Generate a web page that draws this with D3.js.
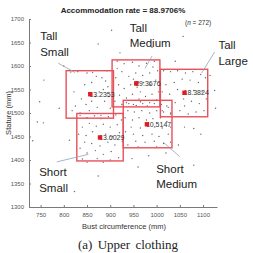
<!DOCTYPE html>
<html>
<head>
<meta charset="utf-8">
<script src="https://cdn.jsdelivr.net/npm/d3@7"></script>
<style>
  body { margin: 0; background: #fff; }
  svg { display: block; }
  text { font-family: "Liberation Sans", Arial, sans-serif; }
</style>
</head>
<body>
<div id="chart"></div>
<script>
// chart data
const xTicks = [750, 800, 850, 900, 950, 1000, 1050, 1100];
const yTicks = [1300, 1350, 1400, 1450, 1500, 1550, 1600, 1650, 1700];

// size groups: box ranges (bust / stature) and share of sample
const groups = ["Tall Small", "Tall Medium", "Tall Large", "Short Small", "Short Medium"];
const bustMin = [805, 904, 1008, 828, 928];
const bustMax = [907, 1007, 1110, 928, 1033];
const statMin = [1489, 1513, 1492, 1398, 1426];
const statMax = [1590, 1613, 1593, 1499, 1527];
const centerBust = [857, 956, 1060, 878, 979];
const centerStat = [1540, 1563, 1543, 1448, 1476];
const shares = ["13.2353", "29.3676", "18.3824", "13.6029", "10.5147"];

// subjects (bust circumference, stature)
const subjects = [
  [757,1570],[748,1524],[743,1481],[756,1479],[903,1676],[874,1647],[1057,1663],[921,1628],
  [1125,1548],[1127,1510],[733,1441],[812,1442],[874,1366],[947,1403],[983,1409],[1080,1389],
  [1047,1432],[823,1333],[1080,1467],[1095,1455],[800,1600],[790,1510],[1040,1610],[990,1640],
  [1115,1580],[1060,1470],[1020,1415],[960,1385],[850,1395],[885,1395],
  [815,1587],[830,1588],[850,1585],[862,1586],[870,1578],[882,1575],[890,1568],[895,1556],
  [885,1550],[876,1545],[868,1535],[860,1525],[848,1518],[838,1530],[825,1515],[818,1505],
  [835,1500],[855,1505],[872,1512],[888,1525],[897,1535],[900,1510],[845,1560],[822,1545],
  [880,1495],[893,1590],[860,1565],
  [915,1610],[930,1605],[948,1608],[962,1600],[978,1606],[992,1598],[1002,1590],[985,1585],
  [970,1580],[955,1585],[940,1578],[925,1588],[912,1575],[918,1560],[930,1552],[944,1560],
  [958,1555],[972,1565],[986,1560],[998,1570],[1004,1545],[990,1540],[976,1535],[962,1530],
  [948,1540],[935,1532],[920,1538],[910,1525],[925,1518],[940,1520],[956,1516],[970,1520],
  [985,1522],[1000,1528],[915,1595],[995,1610],[950,1572],[965,1545],
  [1015,1590],[1030,1588],[1045,1590],[1062,1585],[1078,1588],[1095,1582],[1105,1575],[1090,1565],
  [1072,1570],[1055,1572],[1038,1565],[1020,1560],[1012,1545],[1028,1540],[1045,1550],[1080,1548],
  [1098,1545],[1107,1530],[1092,1520],[1075,1525],[1058,1530],[1040,1522],[1022,1515],[1012,1505],
  [1030,1500],[1050,1505],[1068,1498],[1085,1502],[1102,1505],[1060,1515],
  [835,1495],[850,1490],[866,1494],[880,1488],[896,1492],[912,1496],[924,1485],[915,1475],
  [900,1470],[885,1476],[870,1472],[855,1478],[840,1470],[832,1455],[848,1452],[862,1460],
  [890,1455],[905,1450],[920,1458],[926,1440],[910,1432],[895,1438],[878,1430],[860,1435],
  [845,1438],[835,1425],[850,1415],[868,1420],[885,1412],[902,1418],[918,1405],[840,1402],
  [872,1403],[900,1400],
  [935,1522],[950,1518],[965,1524],[980,1515],[995,1520],[1010,1518],[1025,1512],[1030,1498],
  [1015,1502],[1000,1505],[985,1500],[968,1505],[952,1502],[938,1505],[932,1490],[948,1485],
  [962,1490],[978,1485],[992,1488],[1008,1490],[1022,1482],[1030,1470],[1012,1468],[996,1470],
  [965,1468],[945,1470],[933,1460],[950,1455],[970,1452],[990,1455],[1005,1450],[1025,1455],
  [1030,1438],[1015,1435],[995,1440],[975,1438],[955,1440],[938,1432],[960,1428],[1000,1428]
];

// callout labels: text lines, label anchor, leader line from -> to (data units)
const calloutLines = [["Tall", "Small"], ["Tall", "Medium"], ["Tall", "Large"], ["Short", "Small"], ["Short", "Medium"]];
const calloutAt = [[749, 1655], [942, 1673], [1133, 1636], [747, 1365], [999, 1373]];
const leaderFrom = [[788, 1606], [990, 1621], [1125, 1630], [785, 1396], [1050, 1407]];
const leaderTo = [[824, 1586], [975, 1595], [1097, 1585], [853, 1412], [1014, 1438]];

const W = 253, H = 253;
const margin = { left: 29, right: 36, top: 19, bottom: 46 };

const svg = d3.select("#chart").append("svg")
  .attr("width", W).attr("height", H);

const x = d3.scaleLinear().domain([725, 1130]).range([margin.left, W - margin.right]);
const y = d3.scaleLinear().domain([1300, 1700]).range([H - margin.bottom, margin.top]);

const axisColor = "#7a7a7a";

// axes (ticks point inward)
const xAxis = svg.append("g")
  .attr("transform", `translate(0, ${y(1300)})`)
  .call(d3.axisBottom(x).tickValues(xTicks).tickFormat(d3.format("d"))
    .tickSizeInner(-2).tickSizeOuter(0).tickPadding(6));
const yAxis = svg.append("g")
  .attr("transform", `translate(${x(725)}, 0)`)
  .call(d3.axisLeft(y).tickValues(yTicks).tickFormat(d3.format("d"))
    .tickSizeInner(-2).tickSizeOuter(0).tickPadding(5));

[xAxis, yAxis].forEach(g => {
  g.select(".domain").attr("stroke", axisColor).attr("stroke-width", 1);
  g.selectAll(".tick line").attr("stroke", axisColor);
  g.selectAll(".tick text").attr("fill", "#555").style("font-size", "6px");
});

// scatter of subjects
svg.append("g").selectAll("circle")
  .data(subjects)
  .join("circle")
  .attr("cx", d => x(d[0]))
  .attr("cy", d => y(d[1]))
  .attr("r", 0.7)
  .attr("fill", "#666");

// group boxes
svg.append("g").selectAll("rect")
  .data(groups)
  .join("rect")
  .attr("x", (d, i) => x(bustMin[i]))
  .attr("y", (d, i) => y(statMax[i]))
  .attr("width", (d, i) => x(bustMax[i]) - x(bustMin[i]))
  .attr("height", (d, i) => y(statMin[i]) - y(statMax[i]))
  .attr("fill", "none")
  .attr("stroke", "#e8505a")
  .attr("stroke-width", 1.4);

// share labels and centre markers
const centers = svg.append("g");
centers.selectAll("text")
  .data(groups)
  .join("text")
  .attr("x", (d, i) => x(centerBust[i]) - 1)
  .attr("y", (d, i) => y(centerStat[i]) + 2.5)
  .style("font-size", "7px")
  .attr("fill", "#333")
  .text((d, i) => shares[i]);
centers.selectAll("rect")
  .data(groups)
  .join("rect")
  .attr("x", (d, i) => x(centerBust[i]) - 2.2)
  .attr("y", (d, i) => y(centerStat[i]) - 2.2)
  .attr("width", 4.4)
  .attr("height", 4.4)
  .attr("fill", "#e01b24");

// callouts
svg.append("g").selectAll("line")
  .data(groups)
  .join("line")
  .attr("x1", (d, i) => x(leaderFrom[i][0]))
  .attr("y1", (d, i) => y(leaderFrom[i][1]))
  .attr("x2", (d, i) => x(leaderTo[i][0]))
  .attr("y2", (d, i) => y(leaderTo[i][1]))
  .attr("stroke", "#8ea3bd")
  .attr("stroke-width", 0.8);

svg.append("g").selectAll("text")
  .data(groups)
  .join("text")
  .attr("x", (d, i) => x(calloutAt[i][0]))
  .attr("y", (d, i) => y(calloutAt[i][1]))
  .style("font-size", "11.5px")
  .attr("fill", "#222")
  .each(function(d, i) {
    d3.select(this).selectAll("tspan")
      .data(calloutLines[i])
      .join("tspan")
      .attr("x", x(calloutAt[i][0]))
      .attr("dy", (t, j) => j === 0 ? 0 : 15.5)
      .text(t => t);
  });

// title and n
svg.append("text")
  .attr("x", 123).attr("y", 12.5)
  .attr("text-anchor", "middle")
  .style("font-size", "8px").style("font-weight", "bold")
  .attr("fill", "#222")
  .text("Accommodation rate = 88.9706%");

const nText = svg.append("text")
  .attr("x", 185).attr("y", 25)
  .style("font-size", "6.5px").attr("fill", "#333");
nText.append("tspan").text("(");
nText.append("tspan").style("font-style", "italic").text("n");
nText.append("tspan").text(" = 272)");

// axis titles
svg.append("text")
  .attr("x", 124).attr("y", 229)
  .attr("text-anchor", "middle")
  .style("font-size", "7.5px").attr("fill", "#333")
  .text("Bust circumference (mm)");

svg.append("text")
  .attr("transform", `translate(11, ${(y(1300) + y(1700)) / 2}) rotate(-90)`)
  .attr("text-anchor", "middle")
  .style("font-size", "7.5px").attr("fill", "#333")
  .text("Stature (mm)");

// caption
svg.append("text")
  .attr("x", 128).attr("y", 249)
  .attr("text-anchor", "middle")
  .style("font-family", "'Liberation Serif', 'DejaVu Serif', serif")
  .style("font-size", "13px").style("word-spacing", "2px")
  .attr("fill", "#222")
  .text("(a) Upper clothing");
</script>
</body>
</html>
